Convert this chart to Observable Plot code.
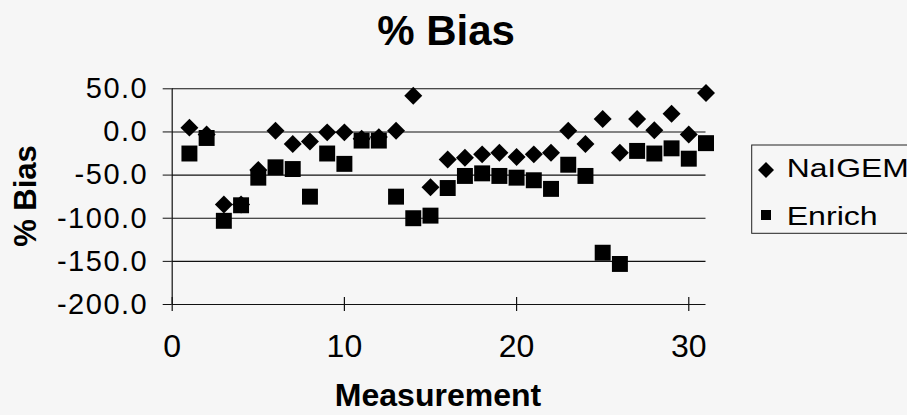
<!DOCTYPE html>
<html>
<head>
<meta charset="utf-8">
<script src="https://cdn.jsdelivr.net/npm/d3@7"></script>
<script src="https://cdn.jsdelivr.net/npm/@observablehq/plot@0.6"></script>
<style>
  html, body { margin: 0; padding: 0; background: #f6f6f6; }
  #chart svg [aria-label="y-axis tick label"] text { letter-spacing: 1.5px; }
</style>
</head>
<body>
<div id="chart"></div>
<script>
// ---- data ----
const measurement = [1,2,3,4,5,6,7,8,9,10,11,12,13,14,15,16,17,18,19,20,21,22,23,24,25,26,27,28,29,30,31];
const naigem = [5,-3,-84,-84,-44,1.5,-14,-11,-0.5,-0.5,-8,-6,1.5,42,-64,-32,-30,-26,-24,-29,-26,-24,1.5,-14,15,-24,15,2,21,-3,45];
const enrich = [-25,-7,-103,-85,-53,-41,-43,-75,-25,-37,-10,-10,-75,-100,-97,-65,-51,-48,-51,-53,-56,-66,-38,-51,-140,-153,-22,-25,-19,-31,-13];
const yTicks = [50,0,-50,-100,-150,-200];
const xTicks = [0,10,20,30];
const seriesNames = ["NaIGEM","Enrich"];
const titleText = "% Bias";
const yLabel = "% Bias";
const xLabel = "Measurement";

const rowsA = measurement.map((m,i) => ({x: m, y: naigem[i]}));
const rowsB = measurement.map((m,i) => ({x: m, y: enrich[i]}));

const font = "'Liberation Sans', Arial, sans-serif";
const W = 907, H = 415;
const mL = 171.7, mR = 201.5, mT = 88.3, mB = 111;

const chart = Plot.plot({
  width: W, height: H,
  marginLeft: mL, marginRight: mR, marginTop: mT, marginBottom: mB,
  style: {background: "#f6f6f6", fontFamily: font, color: "black", overflow: "visible"},
  x: {domain: [0, 31]},
  y: {domain: [-200, 50]},
  marks: [
    Plot.gridY(yTicks, {stroke: "#111", strokeOpacity: 1, strokeWidth: 1.1}),
    Plot.ruleX([0], {stroke: "#111", strokeWidth: 1.2}),
    Plot.ruleX(xTicks, {x: d => d, y1: -200, y2: -200, insetTop: -7, insetBottom: -7, stroke: "#111", strokeWidth: 1.2}),
    Plot.axisY({ticks: yTicks, tickSize: 9, tickPadding: 15, tickFormat: d => d.toFixed(1), fontSize: 29, label: null, stroke: "#111"}),
    Plot.axisX({ticks: xTicks, tickSize: 0, tickPadding: 30, tickFormat: d => String(d), fontSize: 32, label: null}),
    Plot.dot(rowsA, {x: "x", y: "y", symbol: "diamond2", r: 8.1, fill: "black", stroke: "none"}),
    Plot.dot(rowsB, {x: "x", y: "y", symbol: "square", r: 9, fill: "black", stroke: "none"})
  ]
});

const svg = d3.select(chart);
svg.append("text")
  .attr("x", 446).attr("y", 45)
  .attr("text-anchor", "middle")
  .attr("font-family", font).attr("font-size", 42).attr("font-weight", "bold")
  .attr("fill", "black")
  .text(titleText);

svg.append("text")
  .attr("transform", "translate(36,196) rotate(-90)")
  .attr("text-anchor", "middle")
  .attr("font-family", font).attr("font-size", 31).attr("font-weight", "bold")
  .attr("fill", "black")
  .text(yLabel);

svg.append("text")
  .attr("x", 438).attr("y", 406)
  .attr("text-anchor", "middle")
  .attr("font-family", font).attr("font-size", 32).attr("font-weight", "bold")
  .attr("fill", "black")
  .text(xLabel);

// legend
const lg = svg.append("g");
lg.append("rect")
  .attr("x", 751.7).attr("y", 145).attr("width", 180).attr("height", 88.3)
  .attr("fill", "none").attr("stroke", "#222").attr("stroke-width", 1);
const legendItems = [
  {name: seriesNames[0], sym: d3.symbolDiamond2, size: 163, cy: 170, base: 176.7, len: 122},
  {name: seriesNames[1], sym: d3.symbolSquare, size: 100, cy: 215, base: 225, len: 91}
];
legendItems.forEach(it => {
  lg.append("path")
    .attr("d", d3.symbol(it.sym, it.size)())
    .attr("transform", `translate(766,${it.cy})`)
    .attr("fill", "black");
  lg.append("text")
    .attr("x", 786.7).attr("y", it.base)
    .attr("text-anchor", "start")
    .attr("textLength", it.len).attr("lengthAdjust", "spacingAndGlyphs")
    .attr("font-family", font).attr("font-size", 26)
    .attr("fill", "black")
    .text(it.name);
});

document.getElementById("chart").appendChild(chart);
</script>
</body>
</html>
